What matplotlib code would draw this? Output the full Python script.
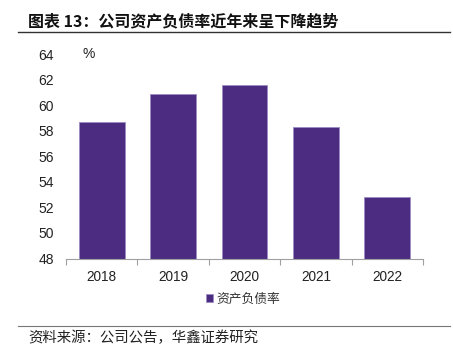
import matplotlib
matplotlib.use("Agg")
import matplotlib.pyplot as plt
from matplotlib.lines import Line2D
import numpy as np

plt.rcParams['font.family'] = ['Liberation Sans', 'Noto Sans CJK SC', 'DejaVu Sans']

years = ['2018', '2019', '2020', '2021', '2022']
debt_ratio = [58.7, 60.9, 61.6, 58.3, 52.8]
yticks = [48, 50, 52, 54, 56, 58, 60, 62, 64]
title = '图表 13：公司资产负债率近年来呈下降趋势'
series_name = '资产负债率'
source = '资料来源：公司公告，华鑫证券研究'

W, H = 453, 355
fig = plt.figure(figsize=(W / 100, H / 100), dpi=100)

ax = fig.add_axes([66 / W, 1 - 258.5 / H, (423 - 66) / W, (258.5 - 54) / H])
x = np.arange(len(years))
ax.bar(x, debt_ratio, width=0.64, color='#4B2C80', edgecolor='#9D8CC4',
       linewidth=0.6, label=series_name, zorder=2)
ax.set_ylim(48, 64)
ax.set_xlim(-0.5, len(years) - 0.5)
ax.set_yticks(yticks)
ax.set_yticklabels([str(v) for v in yticks], fontsize=10, color='#222222')
ax.set_xticks(x)
ax.set_xticklabels(years, fontsize=9.8, color='#222222')
ax.tick_params(axis='y', length=0, pad=8.5)
ax.tick_params(axis='x', which='major', length=0, pad=8)
ax.set_xticks(np.arange(-0.5, len(years)), minor=True)
ax.tick_params(axis='x', which='minor', length=4, width=0.8, color='#A0A0A0', direction='out')
for s in ['top', 'right', 'left']:
    ax.spines[s].set_visible(False)
ax.spines['bottom'].set_color('#A0A0A0')
ax.spines['bottom'].set_linewidth(0.8)

fig.text(89 / W, 1 - 54 / H, '%', fontsize=10, color='#222222', va='center', ha='center')

# legend
leg = ax.legend(loc='center', bbox_to_anchor=(243 / W, 1 - 299 / H),
                bbox_transform=fig.transFigure, frameon=False, fontsize=9.2,
                handlelength=0.55, handleheight=0.55, handletextpad=0.3)
for t in leg.get_texts():
    t.set_family(['Noto Sans CJK SC'])
    t.set_color('#333333')

# title and rules
fig.text(28 / W, 1 - 21 / H, title, fontsize=11.5, fontweight='bold',
         family=['Noto Sans CJK SC', 'DejaVu Sans'], va='center', ha='left', color='#111111')
fig.add_artist(Line2D([18 / W, 450 / W], [1 - 32 / H, 1 - 32 / H], color='#333333', linewidth=1.0))
fig.add_artist(Line2D([18 / W, 450 / W], [1 - 326 / H, 1 - 326 / H], color='#777777', linewidth=0.8))
fig.text(28 / W, 1 - 338 / H, source, fontsize=10.4,
         family=['Noto Sans CJK SC', 'DejaVu Sans'], va='center', ha='left', color='#222222')

fig.savefig('out.png', dpi=100)
